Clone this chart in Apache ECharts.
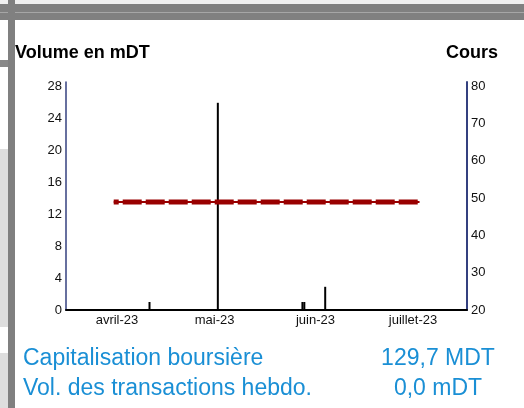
<!DOCTYPE html>
<html>
<head>
<meta charset="utf-8">
<script src="https://cdn.jsdelivr.net/npm/echarts@6/dist/echarts.min.js"></script>
<style>
html,body{margin:0;padding:0;background:#fff;}
#c{width:524px;height:408px;}
</style>
</head>
<body>
<div id="c"></div>
<script>
// ---- data ----
const monthTicks = ['2023-04-01', '2023-05-01', '2023-06-01', '2023-07-01'];
const monthLabels = ['avril-23', 'mai-23', 'juin-23', 'juillet-23'];
const volumeDates = ['2023-04-11', '2023-05-02', '2023-05-28', '2023-05-28T14', '2023-06-04'];
const volumeValues = [1.0, 25.9, 1.0, 1.0, 2.9];
const coursDates = ['2023-03-31', '2023-07-03'];
const coursValues = [48.9, 48.9];
const leftTitle = 'Volume en mDT';
const rightTitle = 'Cours';
const infoLabels = ['Capitalisation boursière', 'Vol. des transactions hebdo.'];
const infoValues = ['129,7 MDT', '0,0 mDT'];

function ts(s) {
  const parts = s.split('T');
  const p = parts[0].split('-').map(Number);
  const h = parts[1] ? Number(parts[1]) : 0;
  return Date.UTC(p[0], p[1] - 1, p[2], h);
}
const tickTs = monthTicks.map(ts);
const volData = volumeDates.map((d, i) => [ts(d), volumeValues[i]]);
const coursData = coursDates.map((d, i) => [ts(d), coursValues[i]]);

const FONT = 'Liberation Sans, Arial, sans-serif';
const blue = '#1a8fd5';
const axisBlue = '#34407f';

const chart = echarts.init(document.getElementById('c'));
chart.setOption({
  animation: false,
  backgroundColor: '#fff',
  grid: { left: 66, right: 57, top: 82, bottom: 98, containLabel: false },
  xAxis: {
    type: 'value',
    min: Date.UTC(2023, 2, 16, 8),
    max: Date.UTC(2023, 6, 17, 14),
    axisLine: { show: true, onZero: false, lineStyle: { color: '#000', width: 2 } },
    axisTick: { show: false },
    splitLine: { show: false },
    axisLabel: {
      customValues: tickTs,
      color: '#111', fontSize: 13, fontFamily: FONT, margin: 4,
      formatter: function (v) { const i = tickTs.indexOf(v); return i >= 0 ? monthLabels[i] : ''; }
    }
  },
  yAxis: [
    {
      type: 'value', min: 0, max: 28.5, interval: 4, position: 'left',
      axisLine: { show: true, lineStyle: { color: axisBlue, width: 1.5 } },
      axisTick: { show: false }, splitLine: { show: false },
      axisLabel: { color: '#111', fontSize: 13, fontFamily: FONT, margin: 4, showMaxLabel: false }
    },
    {
      type: 'value', min: 20, max: 81.07, interval: 10, position: 'right',
      axisLine: { show: true, lineStyle: { color: axisBlue, width: 2 } },
      axisTick: { show: false }, splitLine: { show: false },
      axisLabel: { color: '#111', fontSize: 13, fontFamily: FONT, margin: 4, showMaxLabel: false }
    }
  ],
  series: [
    {
      type: 'bar', yAxisIndex: 0, data: volData, barWidth: 2,
      itemStyle: { color: '#000' }, silent: true
    },
    {
      type: 'line', yAxisIndex: 1, data: coursData, showSymbol: false,
      lineStyle: { color: '#990000', width: 2, type: 'solid' }, silent: true
    },
    {
      type: 'line', yAxisIndex: 1, data: coursData, showSymbol: false,
      lineStyle: { color: '#990000', width: 5, type: [19, 4], dashOffset: 14, cap: 'butt' }, silent: true
    }
  ],
  graphic: [
    { type: 'rect', shape: { x: 0, y: 0, width: 524, height: 4 }, style: { fill: '#f0f0f0' }, z: -1 },
    { type: 'rect', shape: { x: 0, y: 4, width: 524, height: 16 }, style: { fill: '#808080' } },
    { type: 'rect', shape: { x: 0, y: 12, width: 524, height: 1 }, style: { fill: '#a6a6a6' } },
    { type: 'rect', shape: { x: 0, y: 60, width: 8, height: 7 }, style: { fill: '#888888' } },
    { type: 'rect', shape: { x: 0, y: 149, width: 8, height: 178 }, style: { fill: '#dedede' } },
    { type: 'rect', shape: { x: 0, y: 353, width: 8, height: 55 }, style: { fill: '#dedede' } },
    { type: 'rect', shape: { x: 8, y: 0, width: 7, height: 408 }, style: { fill: '#808080' } },
    { type: 'text', style: { x: 15, y: 53, text: leftTitle, font: 'bold 18px ' + FONT, fill: '#000', textAlign: 'left', textVerticalAlign: 'middle' } },
    { type: 'text', style: { x: 498, y: 53, text: rightTitle, font: 'bold 18px ' + FONT, fill: '#000', textAlign: 'right', textVerticalAlign: 'middle' } },
    { type: 'text', style: { x: 23, y: 359, text: infoLabels[0], font: '23px ' + FONT, fill: blue, textAlign: 'left', textVerticalAlign: 'middle' } },
    { type: 'text', style: { x: 23, y: 389, text: infoLabels[1], font: '23px ' + FONT, fill: blue, textAlign: 'left', textVerticalAlign: 'middle' } },
    { type: 'text', style: { x: 438, y: 359, text: infoValues[0], font: '23px ' + FONT, fill: blue, textAlign: 'center', textVerticalAlign: 'middle' } },
    { type: 'text', style: { x: 438, y: 389, text: infoValues[1], font: '23px ' + FONT, fill: blue, textAlign: 'center', textVerticalAlign: 'middle' } }
  ]
});
</script>
</body>
</html>
